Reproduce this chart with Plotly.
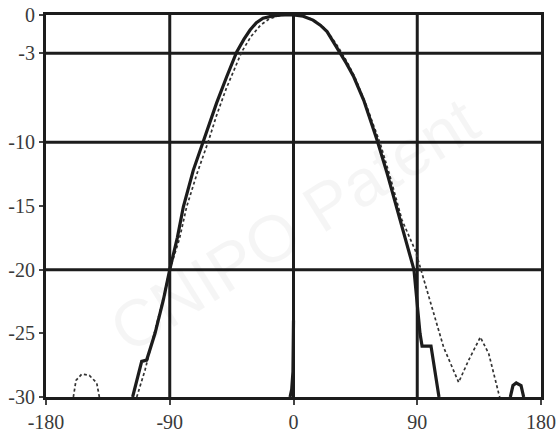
import plotly.graph_objects as go

# measured pattern, dB vs angle (deg)
solid_x = [-117, -110.4, -106.8, -100.7, -94.7, -90, -84.5, -80.1, -72.9, -65.6, -61, -55.9,
           -48.6, -41.3, -36, -31.6, -27, -22.2, -15, -8, 0, 7, 14.2, 19.5, 24.4, 28.5, 32.9,
           38.5, 43.8, 51.1, 55.9, 60.7, 68, 76.5, 82, 87.6, 92, 93.5, 100, 105.8,
           None, 0, -0.4, -1.3, -2.5,
           None, 157.7, 159.6, 162, 165.5, 167.4]
solid_y = [-30, -27.2, -27.1, -25, -22.4, -20, -17.5, -15.06, -12.2, -9.95, -8.4, -6.9,
           -4.85, -2.9, -1.9, -1.18, -0.6, -0.25, -0.07, 0, 0, -0.1, -0.4, -0.8, -1.3, -2.0, -2.75,
           -3.8, -4.85, -6.7, -8.25, -9.8, -12.4, -15.8, -17.9, -20, -25, -26, -26, -30,
           None, -24, -28, -29.4, -30,
           None, -30, -29.1, -28.9, -29.1, -30]

dash_x = [-160.1, -158.2, -154, -148.5, -143.1, -141.2,
          None, -114, -108, -102, -95.5, -90, -83, -77.7, -70, -62, -56, -49, -43, -37.7, -31,
          -24, -18.3, -12, -6, 0, 8, 15, 22, 28, 33, 39, 44.5, 49.6, 53, 58, 62.8, 70, 78.9,
          88.6, 94.7, 101.9, 109.2, 120.1, 127.4, 135.9, 142, 149.2, 150]
dash_y = [-30, -28.7, -28.2, -28.3, -28.9, -30,
          None, -30, -27.9, -25.3, -22.6, -20, -17.6, -15.06, -12.4, -9.95, -7.9, -5.8, -4.2, -2.9, -1.7,
          -0.8, -0.35, -0.1, 0, 0, -0.1, -0.4, -1.0, -1.8, -2.6, -3.7, -4.85, -6.15, -7.1, -8.6, -10, -12.6, -16.1,
          -18.5, -20.8, -23.4, -26.1, -28.85, -27.1, -25.3, -26.6, -29.7, -30]

x_ticks = [-180, -90, 0, 90, 180]
x_labels = ["-180", "-90", "0", "90", "180"]
y_ticks = [0, -3, -10, -15, -20, -25, -30]
y_labels = ["0", "-3", "-10", "-15", "-20", "-25", "-30"]
grid_x = [-90, 0, 90]
grid_y = [-3, -10, -20]

ink = "#1c1c1c"
fig = go.Figure()
fig.add_trace(go.Scatter(x=dash_x, y=dash_y, mode="lines", connectgaps=False,
                         line=dict(color="#333", width=1.7, dash="3px,2.5px")))
fig.add_trace(go.Scatter(x=solid_x, y=solid_y, mode="lines", connectgaps=False,
                         line=dict(color=ink, width=3.2)))

shapes = []
for gx in grid_x:
    shapes.append(dict(type="line", xref="x", yref="paper", x0=gx, x1=gx, y0=0, y1=1,
                       line=dict(color=ink, width=3), layer="below"))
for gy in grid_y:
    shapes.append(dict(type="line", xref="paper", yref="y", x0=0, x1=1, y0=gy, y1=gy,
                       line=dict(color=ink, width=3), layer="below"))

tick_font = dict(family="Liberation Serif", size=20, color="#3a3a3a")
fig.update_layout(
    width=557, height=443,
    margin=dict(l=46, r=16, t=15, b=46),
    paper_bgcolor="white", plot_bgcolor="white",
    showlegend=False,
    shapes=shapes,
    annotations=[dict(text="CNIPO Patent", x=0.5, y=0.45, xref="paper", yref="paper",
                      showarrow=False, textangle=-32,
                      font=dict(family="Liberation Sans", size=66, color="rgba(0,0,0,0.04)"))],
    xaxis=dict(range=[-180, 180], tickvals=x_ticks, ticktext=x_labels, showgrid=False,
               zeroline=False, showline=True, mirror=True, linecolor=ink, linewidth=3,
               ticks="outside", ticklen=5, tickwidth=1.5, tickcolor="#444", tickfont=tick_font,
               automargin=False, ticklabeloverflow="allow"),
    yaxis=dict(range=[-30, 0], tickvals=y_ticks, ticktext=y_labels, showgrid=False,
               zeroline=False, showline=True, mirror=True, linecolor=ink, linewidth=3,
               ticks="outside", ticklen=4, tickwidth=1.5, tickcolor="#444", tickfont=tick_font,
               automargin=False, ticklabeloverflow="allow"),
)

# drop the default 8px page margin so the figure sits at the window corner
fig.write_html("out.html", config={"displayModeBar": False},
               post_script="document.body.style.margin='0';")
